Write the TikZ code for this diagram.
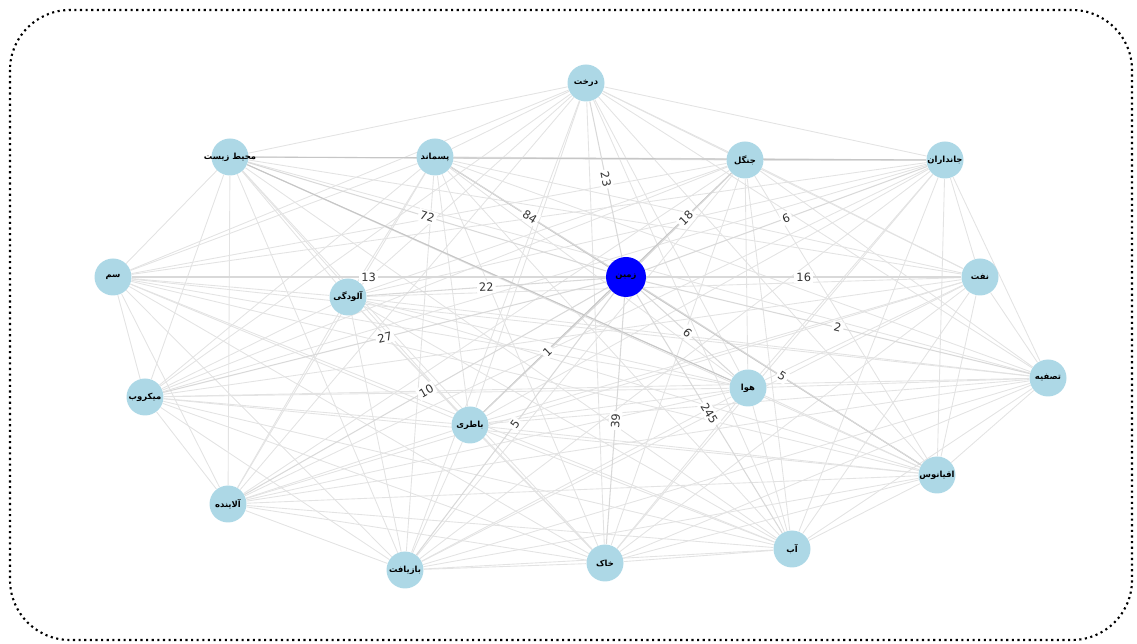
\documentclass[tikz,border=0pt]{standalone}
\usepackage{fontspec}
\newfontfamily\arabicfont[Script=Arabic]{DejaVu Sans}
\TeXXeTstate=1
\usetikzlibrary{positioning, backgrounds}

\definecolor{lightblue}{RGB}{173,216,230}
\newcommand\word[1]{\makebox[0pt]{\beginR #1\endR}}

\tikzset{
  term/.style={circle, fill=lightblue, minimum size=0.74cm, inner sep=0pt,
    font=\arabicfont\fontsize{4.8}{5}\selectfont\bfseries},
  hub/.style={term, fill=blue, minimum size=0.8cm},
  link/.style={draw=gray!22, line width=0.5pt},
  strong/.style={draw=gray!45, line width=0.6pt},
  spoke/.style={draw=gray!30, line width=0.6pt},
  weight/.style={midway, sloped, fill=white, inner sep=1.2pt,
    font=\arabicfont\fontsize{6.5}{8}\selectfont, text=black!80},
}

\begin{document}
\begin{tikzpicture}[x=0.02cm, y=-0.02cm]
  \useasboundingbox (0,0) rectangle (1137,644);

  % frame
  \draw[dotted, line width=1.2pt, rounded corners=1.2cm] (10,10) rectangle (1132,640);

  % words round the hub
  \node[term] (drakht)   at (586,83)  {\word{درخت}};
  \node[term] (mohit)    at (230,157) {\word{محیط زیست}};
  \node[term] (pasmand)  at (435,157) {\word{پسماند}};
  \node[term] (jangal)   at (745,160) {\word{جنگل}};
  \node[term] (jandar)   at (945,160) {\word{جانداران}};
  \node[term] (sam)      at (113,277) {\word{سم}};
  \node[term] (aloodegi) at (348,297) {\word{آلودگی}};
  \node[term] (naft)     at (980,277) {\word{نفت}};
  \node[term] (tasfie)   at (1048,378) {\word{تصفیه}};
  \node[term] (mikrob)   at (145,397) {\word{میکروب}};
  \node[term] (hava)     at (748,388) {\word{هوا}};
  \node[term] (batri)    at (470,425) {\word{باطری}};
  \node[term] (alayande) at (228,504) {\word{آلاینده}};
  \node[term] (bazyaft)  at (405,570) {\word{بازیافت}};
  \node[term] (khak)     at (605,563) {\word{خاک}};
  \node[term] (ab)       at (792,549) {\word{آب}};
  \node[term] (oghyanus) at (937,475) {\word{اقیانوس}};

  % hub
  \node[hub] (zamin) at (626,277) {\word{زمین}};

  % links between the outer words
  \begin{pgfonlayer}{background}
    \foreach \a [count=\i] in {drakht,mohit,pasmand,jangal,jandar,sam,aloodegi,naft,tasfie,mikrob,hava,batri,alayande,bazyaft,khak,ab,oghyanus}{
      \foreach \b [count=\j] in {drakht,mohit,pasmand,jangal,jandar,sam,aloodegi,naft,tasfie,mikrob,hava,batri,alayande,bazyaft,khak,ab,oghyanus}{
        \ifnum\j>\i \draw[link] (\a) -- (\b); \fi
      }
    }
    \draw[strong] (mohit) -- (jandar);
    \draw[strong] (mohit) -- (hava);
    \draw[strong] (pasmand) -- (oghyanus);
    \draw[strong] (jangal) -- (batri);
  \end{pgfonlayer}

  % weighted spokes
  \draw[spoke] (zamin) -- node[weight] {23} (drakht);
  \draw[spoke] (zamin) -- node[weight] {72} (mohit);
  \draw[spoke] (zamin) -- node[weight] {84} (pasmand);
  \draw[spoke] (zamin) -- node[weight] {18} (jangal);
  \draw[spoke] (zamin) -- node[weight] {6} (jandar);
  \draw[spoke] (zamin) -- node[weight] {13} (sam);
  \draw[spoke] (zamin) -- node[weight] {22} (aloodegi);
  \draw[spoke] (zamin) -- node[weight] {16} (naft);
  \draw[spoke] (zamin) -- node[weight] {2} (tasfie);
  \draw[spoke] (zamin) -- node[weight] {27} (mikrob);
  \draw[spoke] (zamin) -- node[weight] {6} (hava);
  \draw[spoke] (zamin) -- node[weight] {1} (batri);
  \draw[spoke] (zamin) -- node[weight] {10} (alayande);
  \draw[spoke] (zamin) -- node[weight] {5} (bazyaft);
  \draw[spoke] (zamin) -- node[weight] {39} (khak);
  \draw[spoke] (zamin) -- node[weight] {245} (ab);
  \draw[spoke] (zamin) -- node[weight] {5} (oghyanus);
\end{tikzpicture}
\end{document}
